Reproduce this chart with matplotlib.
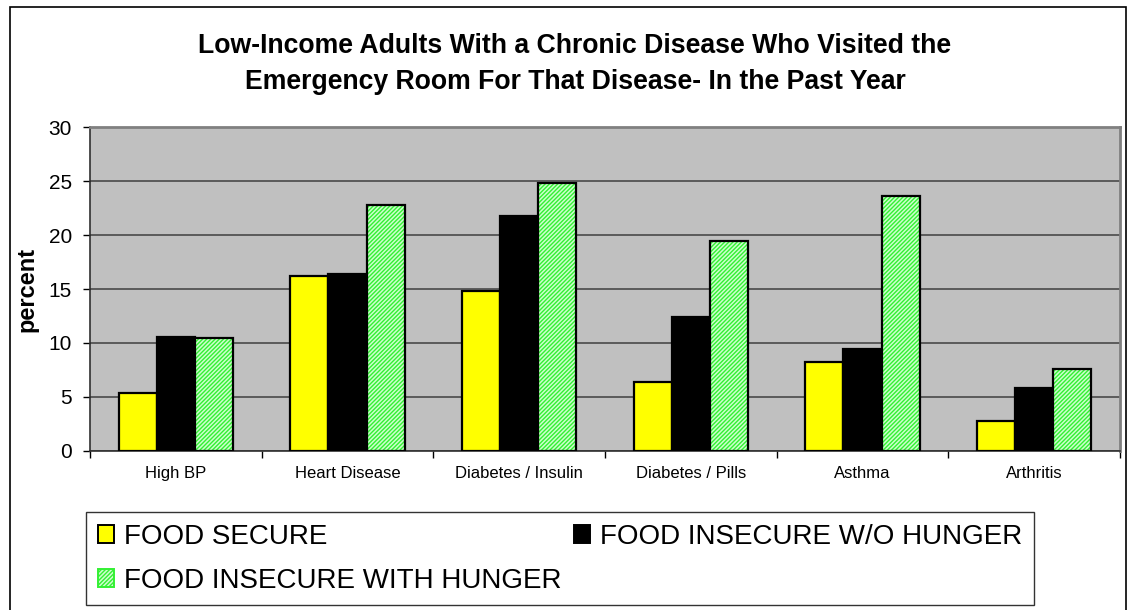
import matplotlib
matplotlib.use("Agg")
import matplotlib.pyplot as plt
from matplotlib.patches import Rectangle, Patch
import numpy as np

plt.rcParams['font.family'] = ['Liberation Sans', 'DejaVu Sans']
plt.rcParams['hatch.linewidth'] = 1.0

categories = ["High BP", "Heart Disease", "Diabetes / Insulin",
              "Diabetes / Pills", "Asthma", "Arthritis"]
food_secure = [5.4, 16.2, 14.8, 6.4, 8.2, 2.8]
insecure_no_hunger = [10.6, 16.4, 21.8, 12.4, 9.4, 5.8]
insecure_hunger = [10.5, 22.8, 24.8, 19.4, 23.6, 7.6]
series_names = ["FOOD SECURE", "FOOD INSECURE W/O HUNGER",
                "FOOD INSECURE WITH HUNGER"]

GREEN_FILL = '#ccffcc'
GREEN_HATCH = '#33f033'
HATCH = '////////'

fig = plt.figure(figsize=(11.28, 6.10), dpi=100)
ax = fig.add_axes([90 / 1128, 1 - 451 / 610, 1030 / 1128, 324 / 610])
ax.set_facecolor('#c0c0c0')

x = np.arange(len(categories))
w = 0.222
ax.bar(x - w, food_secure, w, color='#ffff00', edgecolor='black', linewidth=1.6, zorder=3)
ax.bar(x, insecure_no_hunger, w, color='black', edgecolor='black', linewidth=1.6, zorder=3)
ax.bar(x + w, insecure_hunger, w, color=GREEN_FILL, edgecolor=GREEN_HATCH, hatch=HATCH,
       linewidth=0, zorder=3)
ax.bar(x + w, insecure_hunger, w, fill=False, edgecolor='black', linewidth=1.6, zorder=4)

ax.set_xlim(-0.5, len(categories) - 0.5)
ax.set_ylim(0, 30)
ax.set_yticks(range(0, 31, 5))
ax.tick_params(axis='y', labelsize=15, length=5, width=1, direction='out', pad=8)
ax.set_xticks(x)
ax.set_xticklabels(categories, fontsize=12)
ax.tick_params(axis='x', length=0, pad=11)
ax.set_xticks(np.arange(-0.5, len(categories)), minor=True)
ax.tick_params(axis='x', which='minor', length=5, width=1, direction='out')
ax.yaxis.grid(True, color='#404040', linewidth=1.1, zorder=0)
ax.set_axisbelow(True)
for s in ['left', 'bottom']:
    ax.spines[s].set_color('#303030')
    ax.spines[s].set_linewidth(1.2)
for s in ['top', 'right']:
    ax.spines[s].set_color('#808080')
    ax.spines[s].set_linewidth(2)
ax.set_ylabel('percent', fontsize=17, fontweight='bold', labelpad=7)

fig.text(575 / 1128, 1 - 64 / 610,
         "Low-Income Adults With a Chronic Disease Who Visited the\n"
         "Emergency Room For That Disease- In the Past Year",
         ha='center', va='center', fontsize=19.2, fontweight='bold', linespacing=1.5)

handles = [
    Patch(facecolor='#ffff00', edgecolor='black', linewidth=1.4),
    Patch(facecolor=GREEN_FILL, edgecolor=GREEN_HATCH, hatch=HATCH, linewidth=1.4),
    Patch(facecolor='black', edgecolor='black', linewidth=1.4),
]
labels = [series_names[0], series_names[2], series_names[1]]
leg = fig.legend(handles, labels, loc='upper left', ncol=2,
                 bbox_to_anchor=(86 / 1128, 1 - 512 / 610),
                 fontsize=20, frameon=True, fancybox=False,
                 handlelength=0.58, handleheight=0.58, handletextpad=0.36,
                 columnspacing=0.45, labelspacing=0.65, borderpad=0.42,
                 borderaxespad=0)
leg.get_frame().set_edgecolor('black')
leg.get_frame().set_linewidth(1.0)

fig.patches.append(Rectangle((10 / 1128, -0.01), 1116 / 1128, 1 - 7 / 610 + 0.01,
                             transform=fig.transFigure, fill=False,
                             edgecolor='black', linewidth=1.2))

fig.savefig('out.png', dpi=100)
